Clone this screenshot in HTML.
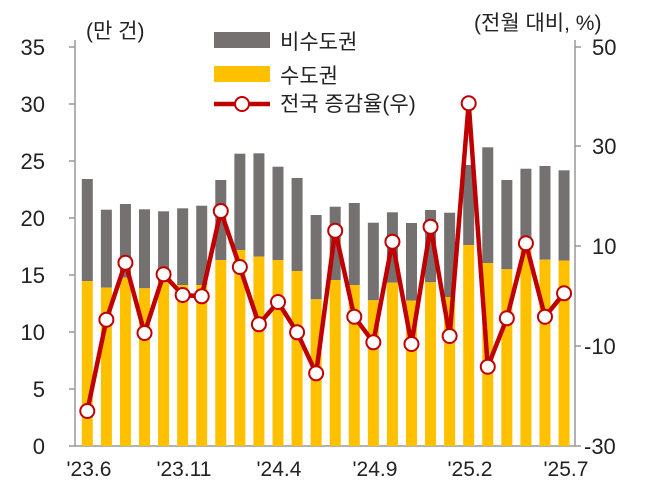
<!DOCTYPE html>
<html><head><meta charset="utf-8"><style>
body{margin:0;background:#fff}
svg text{font-family:"Liberation Sans","Noto Sans CJK KR",sans-serif;fill:#222}
</style></head><body>
<svg width="655" height="490" viewBox="0 0 655 490" xmlns="http://www.w3.org/2000/svg">
<g stroke="#999" stroke-width="1.5">
<line x1="75" y1="40" x2="75" y2="446"/>
<line x1="575" y1="40" x2="575" y2="446"/>
<line x1="75" y1="446" x2="575" y2="446"/>
<line x1="69" y1="446" x2="75" y2="446"/><line x1="69" y1="389" x2="75" y2="389"/><line x1="69" y1="332" x2="75" y2="332"/><line x1="69" y1="275" x2="75" y2="275"/><line x1="69" y1="218" x2="75" y2="218"/><line x1="69" y1="161" x2="75" y2="161"/><line x1="69" y1="104" x2="75" y2="104"/><line x1="69" y1="47" x2="75" y2="47"/>
<line x1="575" y1="446" x2="581" y2="446"/><line x1="575" y1="346" x2="581" y2="346"/><line x1="575" y1="246" x2="581" y2="246"/><line x1="575" y1="146" x2="581" y2="146"/><line x1="575" y1="47" x2="581" y2="47"/>
</g>
<g font-size="22" text-anchor="end">
<text x="45" y="454">0</text><text x="45" y="397">5</text><text x="45" y="340">10</text><text x="45" y="283">15</text><text x="45" y="226">20</text><text x="45" y="169">25</text><text x="45" y="112">30</text><text x="45" y="55">35</text>
</g>
<g font-size="22">
<text x="584" y="454">-30</text><text x="584" y="354">-10</text><text x="592" y="254">10</text><text x="592" y="154">30</text><text x="592" y="55">50</text>
</g>
<text x="86" y="38" font-size="21">(만 건)</text>
<text x="474" y="30" font-size="21">(전월 대비, %)</text>
<g font-size="21" text-anchor="middle">
<text x="89" y="476">'23.6</text><text x="184" y="476">'23.11</text><text x="279" y="476">'24.4</text><text x="375" y="476">'24.9</text><text x="470" y="476">'25.2</text><text x="566" y="476">'25.7</text>
</g>
<g id="bars"></g>
<polyline id="ln" fill="none" stroke="#c00000" stroke-width="4.5" stroke-linejoin="round"/>
<g id="dots"></g>
<rect x="214" y="32" width="56" height="16" fill="#767171"/>
<text x="280" y="49" font-size="21">비수도권</text>
<rect x="214" y="66" width="56" height="16" fill="#ffc000"/>
<text x="280" y="83" font-size="21">수도권</text>
<line x1="214" y1="104" x2="270" y2="104" stroke="#c00000" stroke-width="4.5"/>
<circle cx="242" cy="104" r="7" fill="#fff" stroke="#c00000" stroke-width="2"/>
<text x="280" y="111" font-size="21">전국 증감율(우)</text>
<script>
var g=[179,209.7,204,209.3,211.3,208.3,205.7,180,153.7,153.3,166.7,178,215,206.7,203,222.7,212.3,223,210,212.7,165,147.3,180,168.7,166,170.3];
var y=[281,287.7,277.7,288.3,282.3,285,285,260,250,256.7,260,271,299.3,280,285,300.3,282.7,300.7,282.3,297.3,245,263,269.3,243,259.7,260.7];
var l=[411,319.7,262.7,333,274.3,295,296.3,211,267,324.3,302,332.3,373.3,230.7,316.7,342.3,241.7,344,226.7,336,103.3,366.7,318.3,243.3,316.7,293.3];
var ns="http://www.w3.org/2000/svg",b=document.getElementById("bars"),d=document.getElementById("dots"),pts=[];
for(var i=0;i<26;i++){var x=87.3+19.07*i;
var r=document.createElementNS(ns,"rect");r.setAttribute("x",x-5.5);r.setAttribute("width",11);r.setAttribute("y",g[i]);r.setAttribute("height",y[i]-g[i]);r.setAttribute("fill","#767171");b.appendChild(r);
r=document.createElementNS(ns,"rect");r.setAttribute("x",x-5.5);r.setAttribute("width",11);r.setAttribute("y",y[i]);r.setAttribute("height",446-y[i]);r.setAttribute("fill","#ffc000");b.appendChild(r);
pts.push(x+","+l[i]);
var c=document.createElementNS(ns,"circle");c.setAttribute("cx",x);c.setAttribute("cy",l[i]);c.setAttribute("r",7);c.setAttribute("fill","#fff");c.setAttribute("stroke","#c00000");c.setAttribute("stroke-width",2);d.appendChild(c);}
document.getElementById("ln").setAttribute("points",pts.join(" "));
</script>
</svg>
</body></html>
